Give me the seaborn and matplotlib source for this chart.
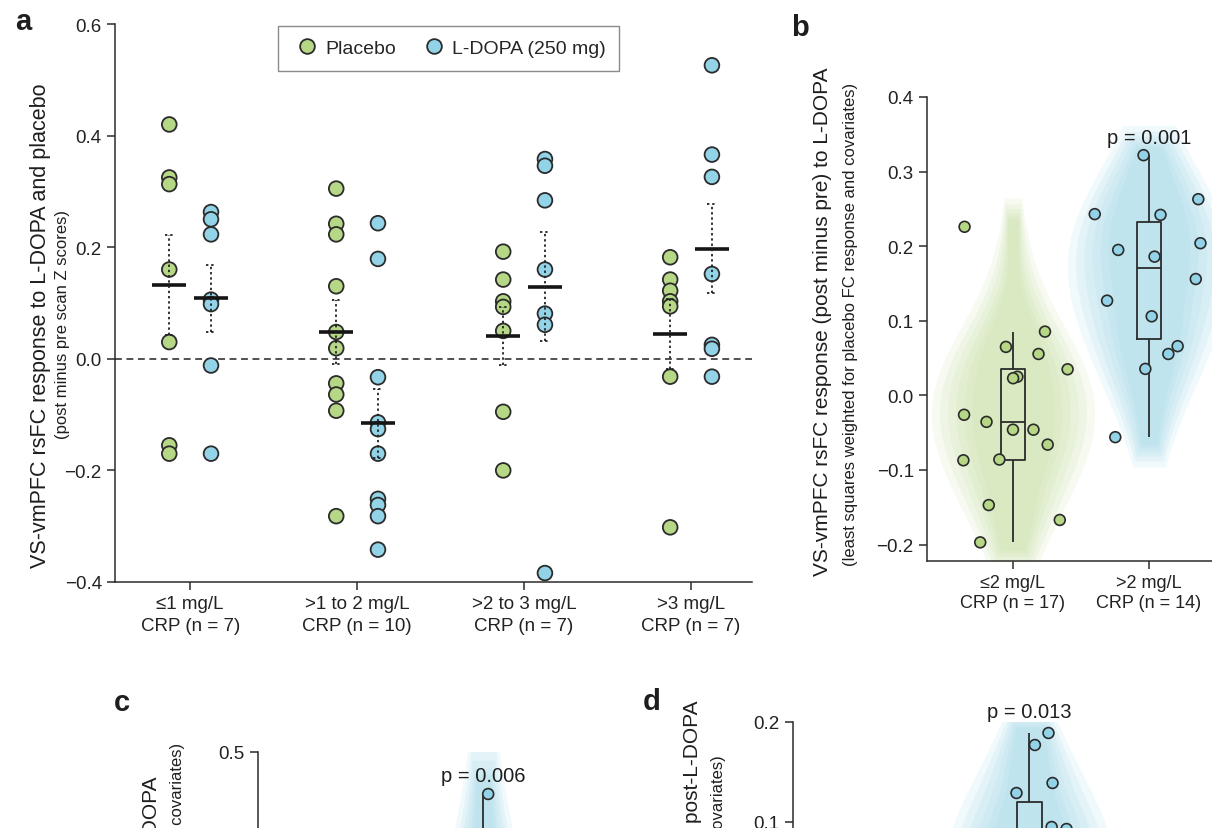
import numpy as np
import pandas as pd
import matplotlib
matplotlib.use("Agg")
import matplotlib.pyplot as plt
import seaborn as sns

# panel a: individual VS-vmPFC rsFC responses per CRP group
crp_groups = ["≤1 mg/L\nCRP (n = 7)", ">1 to 2 mg/L\nCRP (n = 10)",
              ">2 to 3 mg/L\nCRP (n = 7)", ">3 mg/L\nCRP (n = 7)"]
conditions = ["Placebo", "L-DOPA (250 mg)"]
placebo_a = [
    [0.42, 0.325, 0.313, 0.16, 0.03, -0.155, -0.17],
    [0.305, 0.242, 0.223, 0.13, 0.048, 0.019, -0.044, -0.064, -0.093, -0.282],
    [0.192, 0.142, 0.103, 0.093, 0.05, -0.095, -0.2],
    [0.182, 0.142, 0.122, 0.103, 0.094, -0.032, -0.302],
]
ldopa_a = [
    [0.263, 0.25, 0.223, 0.106, 0.098, -0.012, -0.17],
    [0.243, 0.179, -0.033, -0.114, -0.126, -0.17, -0.251, -0.262, -0.282, -0.342],
    [0.358, 0.346, 0.284, 0.16, 0.081, 0.061, -0.384],
    [0.526, 0.366, 0.326, 0.152, 0.025, 0.018, -0.032],
]

# panels b-d: low vs high CRP
crp_split = ["≤2 mg/L\nCRP (n = 17)", ">2 mg/L\nCRP (n = 14)"]
low_b = [0.226, 0.0855, 0.065, 0.0555, 0.035, 0.025, 0.023, -0.026, -0.0355,
         -0.046, -0.046, -0.066, -0.086, -0.087, -0.147, -0.167, -0.197]
high_b = [0.322, 0.263, 0.243, 0.242, 0.204, 0.195, 0.186, 0.156, 0.127,
          0.106, 0.066, 0.0555, 0.0355, -0.056]
# c and d are cut off by the bottom of the figure, only their tops show
low_c = [0.25, 0.2, 0.15, 0.1, 0.08, 0.05, 0.03, 0.0, -0.02, -0.05, -0.08,
         -0.1, -0.12, -0.15, -0.18, -0.2, -0.25]
high_c = [0.458, 0.33, 0.29, 0.26, 0.22, 0.2, 0.18, 0.15, 0.12, 0.1, 0.07,
          0.03, 0.0, -0.05]
low_d = [0.04, 0.02, 0.01, 0.0, -0.01, -0.02, -0.03, -0.04, -0.05, -0.06,
         -0.07, -0.08, -0.09, -0.1, -0.11, -0.13, -0.15]
high_d = [0.189, 0.177, 0.139, 0.129, 0.095, 0.093, 0.08, 0.07, 0.06, 0.05,
          0.04, 0.03, 0.01, -0.01]
p_values = ["p = 0.001", "p = 0.006", "p = 0.013"]

point_colors = ["#b6d785", "#93d3e8"]
line_colors = ["#9dca5e", "#3db9e2"]
violin_colors = ["#c6dfa0", "#9ed7e7"]
ink = "#2b2b2b"

sns.set_style("ticks")
plt.rcParams["font.family"] = ["Liberation Sans", "DejaVu Sans"]
plt.rcParams["axes.edgecolor"] = ink
plt.rcParams["axes.linewidth"] = 1.1

W, H = 1212, 829
fig = plt.figure(figsize=(W / 100, H / 100), dpi=100)


def px_axes(left, top, width, height):
    return fig.add_axes([left / W, 1 - (top + height) / H, width / W, height / H])


def px_text(x, y, s, **kw):
    fig.text(x / W, 1 - y / H, s, color="#1e1e1e", **kw)


def style_axes(ax, labelsize=13.5):
    sns.despine(ax=ax)
    ax.tick_params(length=6, width=1.1, color=ink, labelsize=labelsize, labelcolor="#222222")
    ax.set_xlabel("")
    ax.set_ylabel("")


# ---- panel a ----
rows = []
for i, grp in enumerate(crp_groups):
    for cond, vals in zip(conditions, [placebo_a[i], ldopa_a[i]]):
        for v in vals:
            rows.append({"crp": grp, "idx": i, "condition": cond, "value": v})
dfa = pd.DataFrame(rows)
dfa["xpos"] = dfa["idx"] + dfa["condition"].map({conditions[0]: -0.125, conditions[1]: 0.125})

ax_a = px_axes(115, 25, 637, 558)
ax_a.axhline(0, color="#222222", lw=1.1, ls=(0, (4.5, 3)), zorder=0)
sns.scatterplot(data=dfa, x="xpos", y="value", hue="condition", hue_order=conditions,
                palette=point_colors, s=112, edgecolor=ink, linewidth=1.3, ax=ax_a, zorder=2)
sns.pointplot(data=dfa, x="xpos", y="value", hue="condition", hue_order=conditions,
              palette=line_colors, native_scale=True, errorbar="se", markers="_",
              linestyles="-", markersize=24, markeredgewidth=2.6, markeredgecolor="#151515",
              linewidth=2.2, capsize=0.22,
              err_kws={"color": "#222222", "linewidth": 1.3, "linestyle": (0, (1.3, 1.6))},
              legend=False, ax=ax_a)
ax_a.set_xlim(-0.45, 3.365)
ax_a.set_ylim(-0.4, 0.6)
ax_a.set_yticks([-0.4, -0.2, 0.0, 0.2, 0.4, 0.6])
ax_a.set_xticks(range(len(crp_groups)))
ax_a.set_xticklabels(crp_groups, fontsize=13, linespacing=1.35)
style_axes(ax_a)

leg = ax_a.get_legend()
handles = leg.legend_handles
labels = [t.get_text() for t in leg.get_texts()]
leg.remove()
ax_a.legend(handles, labels, loc="upper center", bbox_to_anchor=(0.524, 0.997), ncol=2,
            fontsize=14, handletextpad=0.15, columnspacing=1.1, borderpad=0.7,
            borderaxespad=0, handlelength=1.6, fancybox=False, edgecolor="#8a8a8a",
            framealpha=1)


# ---- panels b, c, d ----
def crp_frame(low, high):
    return pd.DataFrame({"crp": [crp_split[0]] * len(low) + [crp_split[1]] * len(high),
                         "value": list(low) + list(high)})


def draw_split_panel(ax, df, seed, jitter=0.42):
    # stacked translucent violins give the soft blurred edge
    layers = [(1.2, 1.45, 0.45), (1.08, 1.3, 0.4), (0.96, 1.18, 0.35),
              (0.84, 1.06, 0.3), (0.72, 0.96, 0.25), (0.6, 0.9, 0.2)]
    for width, bw, cut in layers:
        sns.violinplot(data=df, x="crp", y="value", hue="crp", order=crp_split,
                       hue_order=crp_split, palette=violin_colors, inner=None, linewidth=0,
                       density_norm="width", width=width, bw_adjust=bw, cut=cut,
                       saturation=1, alpha=0.15, legend=False, ax=ax)
    sns.boxplot(data=df, x="crp", y="value", order=crp_split, width=0.18, fill=False,
                color=ink, linewidth=1.3, showcaps=False, showfliers=False, ax=ax)
    np.random.seed(seed)
    sns.stripplot(data=df, x="crp", y="value", hue="crp", order=crp_split,
                  hue_order=crp_split, palette=point_colors, jitter=jitter, size=7.8,
                  edgecolor=ink, linewidth=1.2, legend=False, ax=ax, zorder=3)
    style_axes(ax)
    ax.tick_params(axis="x", labelsize=13)


ax_b = px_axes(927, 98, 308, 464)
draw_split_panel(ax_b, crp_frame(low_b, high_b), 7)
ax_b.set_xlim(-0.632, 1.632)
ax_b.set_ylim(-0.222, 0.4)
ax_b.set_yticks(np.round(np.arange(-0.2, 0.41, 0.1), 1))
ax_b.text(1, 0.346, p_values[0], ha="center", va="center", fontsize=14.5, color="#1e1e1e")

# c and d: only the part above the figure's bottom edge is visible
ax_c = px_axes(258, 753, 315, 800)
draw_split_panel(ax_c, crp_frame(low_c, high_c), 3, jitter=0.3)
ax_c.set_xlim(-0.66, 1.66)
ax_c.set_ylim(-0.3, 0.5)
ax_c.set_yticks([0.5])
ax_c.set_xticks([])
ax_c.text(1, 0.476, p_values[1], ha="center", va="center", fontsize=14.5, color="#1e1e1e")

ax_d = px_axes(793, 723, 337, 400)
draw_split_panel(ax_d, crp_frame(low_d, high_d), 9, jitter=0.42)
ax_d.set_xlim(-0.74, 1.74)
ax_d.set_ylim(-0.2, 0.2)
ax_d.set_yticks([0.1, 0.2])
ax_d.set_xticks([])
ax_d.text(1, 0.21, p_values[2], ha="center", va="center", fontsize=14.5, color="#1e1e1e")

# ---- axis titles and panel letters ----
px_text(41, 326, "VS-vmPFC rsFC response to L-DOPA and placebo", rotation=90,
        ha="center", va="center", fontsize=15.5)
px_text(63, 325, "(post minus pre scan Z scores)", rotation=90, ha="center",
        va="center", fontsize=12)
px_text(823, 322, "VS-vmPFC rsFC response (post minus pre) to L-DOPA", rotation=90,
        ha="center", va="center", fontsize=15)
px_text(850, 324, "(least squares weighted for placebo FC response and covariates)",
        rotation=90, ha="center", va="center", fontsize=12)
px_text(152, 777, "VS-vmPFC rsFC response (post minus pre) to L-DOPA", rotation=90,
        ha="center", va="top", fontsize=15)
px_text(178, 743, "(least squares weighted for placebo FC response and covariates)",
        rotation=90, ha="center", va="top", fontsize=12)
px_text(693, 700, "VS-vmPFC rsFC post-L-DOPA", rotation=90, ha="center", va="top",
        fontsize=15)
px_text(718, 755, "(least squares weighted for pre-L-DOPA FC and covariates)",
        rotation=90, ha="center", va="top", fontsize=12)

for letter, x, y in [("a", 23, 22), ("b", 800, 28), ("c", 122, 703), ("d", 652, 702)]:
    px_text(x, y, letter, ha="center", va="center", fontsize=21, fontweight="bold")

fig.savefig("out.png", dpi=100)
plt.close(fig)
